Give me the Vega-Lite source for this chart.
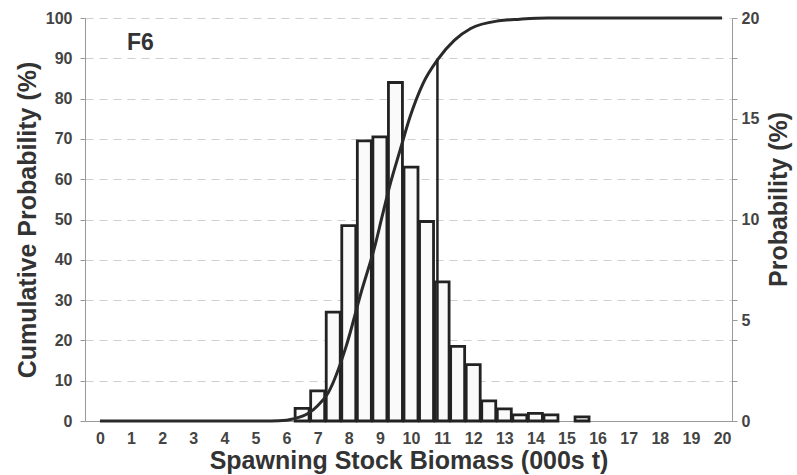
{
  "$schema": "https://vega.github.io/schema/vega-lite/v6.json",
  "width": 647,
  "height": 403,
  "autosize": {"type": "none"},
  "padding": {"left": 85, "top": 18, "right": 65, "bottom": 54},
  "background": "white",
  "title": {
    "text": "F6",
    "anchor": "start",
    "frame": "group",
    "orient": "top",
    "offset": -45,
    "dx": 42,
    "fontSize": 23,
    "fontWeight": "bold",
    "color": "#333",
    "font": "Liberation Sans"
  },
  "config": {
    "font": "Liberation Sans",
    "view": {"stroke": null},
    "axis": {
      "labelFont": "Liberation Sans",
      "labelFontSize": 16,
      "labelFontWeight": "bold",
      "labelColor": "#444",
      "labelOverlap": false,
      "titleFont": "Liberation Sans",
      "titleFontSize": 25,
      "titleFontWeight": "bold",
      "titleColor": "#333",
      "domainColor": "#999",
      "tickColor": "#999"
    }
  },
  "datasets": {
    "bars": [
      {"biomass": 6.5, "probability": 0.63},
      {"biomass": 7.0, "probability": 1.5},
      {"biomass": 7.5, "probability": 5.4},
      {"biomass": 8.0, "probability": 9.7},
      {"biomass": 8.5, "probability": 13.9},
      {"biomass": 9.0, "probability": 14.1},
      {"biomass": 9.5, "probability": 16.8},
      {"biomass": 10.0, "probability": 12.6},
      {"biomass": 10.5, "probability": 9.9},
      {"biomass": 11.0, "probability": 6.9},
      {"biomass": 11.5, "probability": 3.7},
      {"biomass": 12.0, "probability": 2.8},
      {"biomass": 12.5, "probability": 1.0},
      {"biomass": 13.0, "probability": 0.6},
      {"biomass": 13.5, "probability": 0.3},
      {"biomass": 14.0, "probability": 0.38},
      {"biomass": 14.5, "probability": 0.3},
      {"biomass": 15.5, "probability": 0.2}
    ],
    "cum": [
      {"biomass": 0, "cumulative": 0},
      {"biomass": 5.5, "cumulative": 0},
      {"biomass": 6.0, "cumulative": 0.2},
      {"biomass": 6.2, "cumulative": 0.5},
      {"biomass": 6.7, "cumulative": 1.9},
      {"biomass": 7.0, "cumulative": 3.8},
      {"biomass": 7.33, "cumulative": 6.9},
      {"biomass": 7.91, "cumulative": 18.4},
      {"biomass": 8.39, "cumulative": 31.7},
      {"biomass": 8.86, "cumulative": 44},
      {"biomass": 9.07, "cumulative": 50.7},
      {"biomass": 9.34, "cumulative": 59},
      {"biomass": 9.65, "cumulative": 67.2},
      {"biomass": 9.97, "cumulative": 75.5},
      {"biomass": 10.39, "cumulative": 83.8},
      {"biomass": 10.85, "cumulative": 89.6},
      {"biomass": 11.4, "cumulative": 94.5},
      {"biomass": 11.92, "cumulative": 97.4},
      {"biomass": 12.82, "cumulative": 99.3},
      {"biomass": 13.5, "cumulative": 99.7},
      {"biomass": 14.4, "cumulative": 100},
      {"biomass": 20, "cumulative": 100}
    ],
    "percentile": [
      {"biomass": 10.85, "cumulative": 89.6}
    ]
  },
  "layer": [
    {
      "data": {"name": "bars"},
      "mark": {"type": "bar", "width": 14, "fill": "#fafafa", "stroke": "#222", "strokeWidth": 2.8},
      "encoding": {
        "x": {
          "field": "biomass",
          "type": "quantitative",
          "scale": {"domain": [-0.32, 20.16], "nice": false, "zero": false},
          "axis": {
            "title": "Spawning Stock Biomass (000s t)",
            "values": [0,1,2,3,4,5,6,7,8,9,10,11,12,13,14,15,16,17,18,19,20],
            "tickSize": 0,
            "labelPadding": 9,
            "titlePadding": 2,
            "grid": false,
            "labelFlush": false,
            "labelOverlap": false
          }
        },
        "y": {
          "field": "probability",
          "type": "quantitative",
          "scale": {"domain": [0, 20], "nice": false},
          "axis": {
            "orient": "right",
            "title": "Probability (%)",
            "titleAngle": 270,
            "titleY": 181,
            "titlePadding": 33,
            "values": [0,2,4,5,6,8,10,12,14,15,16,18,20],
            "labelExpr": "datum.value % 5 === 0 ? datum.label : ''",
            "tickSize": 5,
            "labelPadding": 4,
            "grid": false
          }
        }
      }
    },
    {
      "encoding": {
        "x": {
          "field": "biomass",
          "type": "quantitative",
          "scale": {"domain": [-0.32, 20.16], "nice": false, "zero": false},
          "axis": {
            "title": "Spawning Stock Biomass (000s t)",
            "values": [0,1,2,3,4,5,6,7,8,9,10,11,12,13,14,15,16,17,18,19,20],
            "tickSize": 0,
            "labelPadding": 9,
            "titlePadding": 2,
            "grid": false,
            "labelFlush": false,
            "labelOverlap": false
          }
        },
        "y": {
          "field": "cumulative",
          "type": "quantitative",
          "scale": {"domain": [0, 100], "nice": false},
          "axis": {
            "orient": "left",
            "title": "Cumulative Probability (%)",
            "values": [0,10,20,30,40,50,60,70,80,90,100],
            "tickSize": 5,
            "labelPadding": 8,
            "titlePadding": 5,
            "grid": true,
            "gridDash": [8, 6],
            "gridColor": "#cfcfcf",
            "gridWidth": 1
          }
        }
      },
      "layer": [
        {
          "data": {"name": "cum"},
          "mark": {"type": "line", "color": "#2a2a2a", "strokeWidth": 3, "interpolate": "monotone"}
        },
        {
          "data": {"name": "percentile"},
          "mark": {"type": "rule", "color": "#222", "strokeWidth": 2.5},
          "encoding": {
            "y2": {"datum": 0}
          }
        }
      ]
    }
  ],
  "resolve": {"scale": {"y": "independent"}}
}
